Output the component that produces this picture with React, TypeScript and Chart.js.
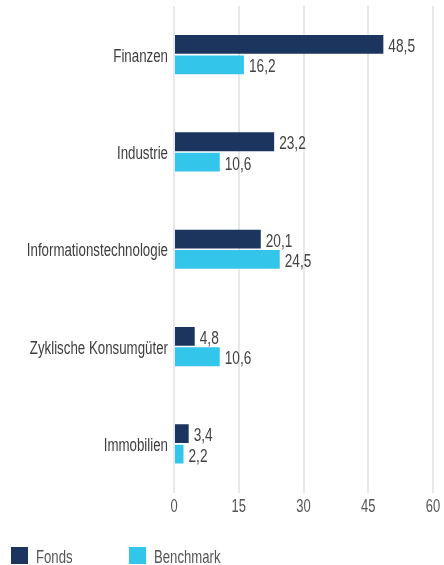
import React, { useEffect, useRef } from "react";
import { Chart, registerables } from "chart.js";

Chart.register(...registerables);

const categories = ["Finanzen", "Industrie", "Informationstechnologie", "Zyklische Konsumgüter", "Immobilien"];
const fondsValues = [48.5, 23.2, 20.1, 4.8, 3.4];
const benchmarkValues = [16.2, 10.6, 24.5, 10.6, 2.2];
const seriesNames = ["Fonds", "Benchmark"];
const xTicks = [0, 15, 30, 45, 60];

const DARK = "#1b355e";
const LIGHT = "#34c5ea";
const FONT = '"Liberation Sans", Arial, sans-serif';
const SX = 0.75;

function drawText(ctx: CanvasRenderingContext2D, text: string, x: number, y: number, align: CanvasTextAlign, size: number, color: string, sx = SX) {
  ctx.save();
  ctx.translate(x, y);
  ctx.scale(sx, 1);
  ctx.font = `${size}px ${FONT}`;
  ctx.fillStyle = color;
  ctx.textAlign = align;
  ctx.textBaseline = "alphabetic";
  ctx.fillText(text, 0, 0);
  ctx.restore();
}

const textPlugin = {
  id: "textPlugin",
  afterDraw(chart: any) {
    const ctx = chart.ctx as CanvasRenderingContext2D;
    const xScale = chart.scales.x;
    const yScale = chart.scales.y;
    const area = chart.chartArea;
    // category labels
    categories.forEach((c, i) => {
      const y = yScale.getPixelForValue(i);
      drawText(ctx, c, area.left - 6, y + 7, "right", 17.5, "#3d3d3d", 0.76);
    });
    // x tick labels
    xTicks.forEach((v) => {
      const x = xScale.getPixelForValue(v);
      drawText(ctx, String(v), x, area.bottom + 19.5, "center", 18, "#555", 0.72);
    });
    // value labels
    chart.data.datasets.forEach((ds: any, di: number) => {
      const meta = chart.getDatasetMeta(di);
      meta.data.forEach((bar: any, i: number) => {
        const v = ds.data[i] as number;
        drawText(ctx, v.toFixed(1).replace(".", ","), bar.x + 5, bar.y + 7.5, "left", 18, "#444", 0.76);
      });
    });
    // legend
    const items = [
      { color: DARK, label: seriesNames[0], x: 11 },
      { color: LIGHT, label: seriesNames[1], x: 129 },
    ];
    items.forEach((it) => {
      ctx.fillStyle = it.color;
      ctx.fillRect(it.x, 547, 17, 17);
      drawText(ctx, it.label, it.x + 25, 563, "left", 18, "#555", 0.73);
    });
  },
};

export default function App() {
  const ref = useRef<HTMLCanvasElement>(null);
  useEffect(() => {
    document.body.style.margin = "0";
    if (!ref.current) return;
    const chart = new Chart(ref.current, {
      type: "bar",
      data: {
        labels: categories,
        datasets: [
          { label: seriesNames[0], data: fondsValues, backgroundColor: DARK, categoryPercentage: 0.42, barPercentage: 0.92 },
          { label: seriesNames[1], data: benchmarkValues, backgroundColor: LIGHT, categoryPercentage: 0.42, barPercentage: 0.92 },
        ],
      },
      options: {
        indexAxis: "y",
        responsive: false,
        animation: false,
        layout: { padding: { left: 0, right: 11, top: 6, bottom: 72.5 } },
        plugins: { legend: { display: false }, tooltip: { enabled: false } },
        scales: {
          x: {
            min: 0,
            max: 60,
            afterBuildTicks(scale: any) {
              scale.ticks = xTicks.map((v) => ({ value: v }));
            },
            afterFit(scale: any) {
              scale.height = 0;
              scale.paddingLeft = 0;
              scale.paddingRight = 0;
            },
            grid: { color: "#e8e8e8", lineWidth: 2, drawTicks: false },
            border: { display: false },
            ticks: { display: false },
          },
          y: {
            grid: { display: false, drawTicks: false },
            border: { display: false },
            afterFit(scale: any) {
              scale.width = 174;
              scale.paddingTop = 0;
              scale.paddingBottom = 0;
            },
            ticks: { display: false },
          },
        },
      },
      plugins: [textPlugin],
    });
    return () => chart.destroy();
  }, []);
  return <canvas ref={ref} width={444} height={565} />;
}
